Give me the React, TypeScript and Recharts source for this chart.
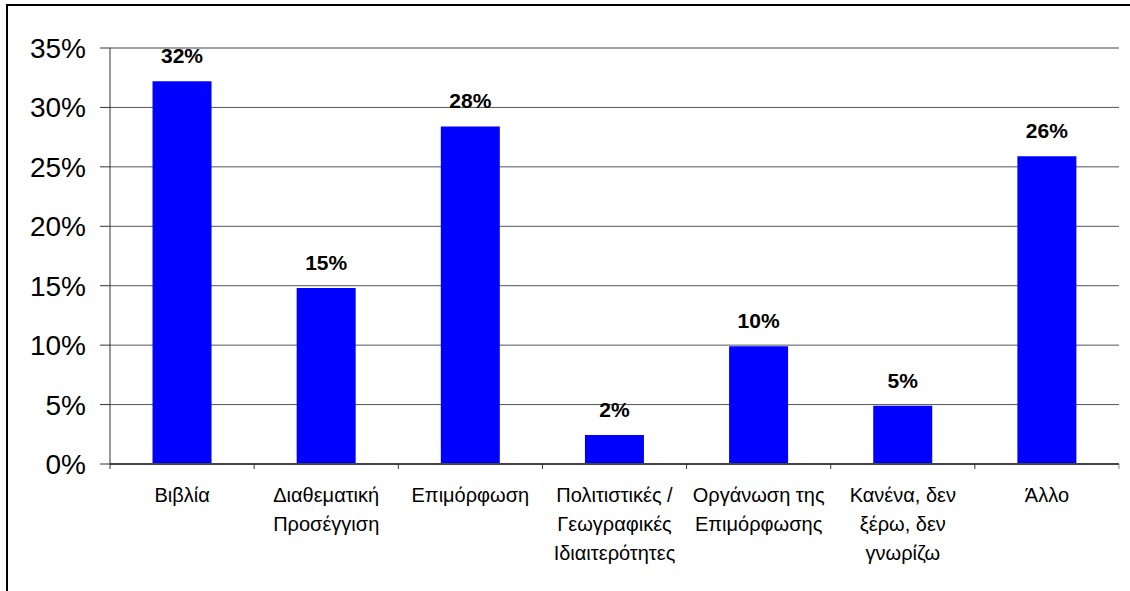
import React from 'react';
import { BarChart, Bar, XAxis, YAxis, CartesianGrid, LabelList, ReferenceLine } from 'recharts';

const categories = [
  'Βιβλία',
  'Διαθεματική\nΠροσέγγιση',
  'Επιμόρφωση',
  'Πολιτιστικές /\nΓεωγραφικές\nΙδιαιτερότητες',
  'Οργάνωση της\nΕπιμόρφωσης',
  'Κανένα, δεν\nξέρω, δεν\nγνωρίζω',
  'Άλλο',
];
const shares = [32.2, 14.8, 28.4, 2.45, 9.9, 4.9, 25.9];
const yTicks = [0, 5, 10, 15, 20, 25, 30, 35];

const data = categories.map((c, i) => ({ category: c, share: shares[i] }));

const FONT = '"Liberation Sans", Arial, sans-serif';

const CategoryTick = (props: any) => {
  const { x, y, payload, index, width, visibleTicksCount } = props;
  const count = visibleTicksCount || categories.length;
  const band = (Number(width) || 1009) / count;
  const lines = String(payload.value).split('\n');
  return (
    <g>
      <line x1={x - band / 2} x2={x - band / 2} y1={y} y2={y + 5} stroke="#333" strokeWidth={1} />
      {index === count - 1 && (
        <line x1={x + band / 2} x2={x + band / 2} y1={y} y2={y + 5} stroke="#888" strokeWidth={1} />
      )}
      <text textAnchor="middle" fontFamily={FONT} fontSize={20} fill="#000">
        {lines.map((l, i) => (
          <tspan key={i} x={x} y={y + 31 + i * 29} dy="0.35em">
            {l}
          </tspan>
        ))}
      </text>
    </g>
  );
};

export default function App() {
  return (
    <div style={{ position: 'absolute', left: 0, top: 0, width: 1130, height: 591, background: '#fff' }}>
      <div
        style={{
          position: 'absolute',
          left: 6,
          top: 4,
          right: 0,
          bottom: 0,
          borderTop: '2px solid #000',
          borderLeft: '2px solid #000',
        }}
      />
      <div style={{ position: 'absolute', left: 0, top: 0 }}>
        <BarChart
          width={1130}
          height={591}
          data={data}
          margin={{ top: 48, right: 11, bottom: 0, left: 10 }}
          barCategoryGap="29.5%"
        >
          <CartesianGrid horizontal vertical={false} stroke="#555" />
          <XAxis
            dataKey="category"
            height={127}
            interval={0}
            tickSize={0}
            tickMargin={0}
            tickLine={false}
            axisLine={{ stroke: '#444', strokeWidth: 2 }}
            tick={<CategoryTick />}
          />
          <YAxis
            width={100}
            domain={[0, 35]}
            ticks={yTicks}
            interval={0}
            tickSize={10}
            tickMargin={14}
            tickFormatter={(v: number) => `${v}%`}
            tick={{ fill: '#000', fontSize: 28, fontFamily: FONT }}
            tickLine={{ stroke: '#333' }}
            axisLine={{ stroke: '#333' }}
          />
          <YAxis
            yAxisId="r"
            orientation="right"
            width={0}
            domain={[0, 35]}
            tick={false}
            tickLine={false}
            axisLine={{ stroke: '#888' }}
          />
          <ReferenceLine y={35} stroke="#999" />
          <Bar dataKey="share" fill="#0000FF" isAnimationActive={false}>
            <LabelList
              dataKey="share"
              position="top"
              offset={18}
              formatter={(v: any) => `${Math.round(Number(v))}%`}
              style={{ fontFamily: FONT, fontSize: 21, fontWeight: 'bold', fill: '#000' }}
            />
          </Bar>
        </BarChart>
      </div>
    </div>
  );
}
